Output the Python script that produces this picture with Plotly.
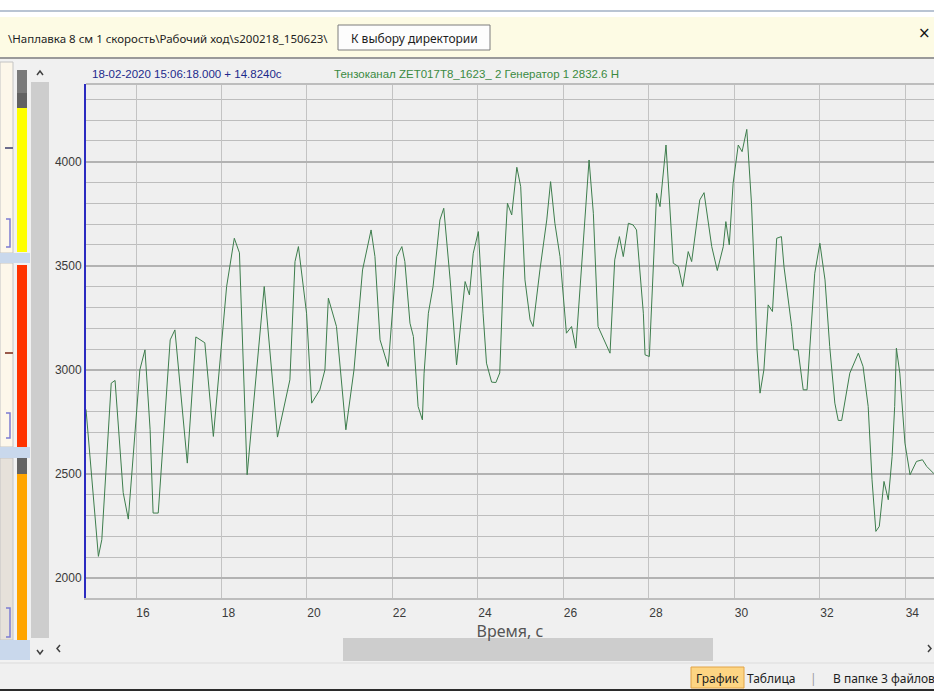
import plotly.graph_objects as go

# ---------------- data ----------------
time_s = [14.83, 15.12, 15.20, 15.42, 15.51, 15.70, 15.82, 16.09, 16.21, 16.33,
          16.40, 16.52, 16.80, 16.91, 17.20, 17.40, 17.61, 17.81, 18.12, 18.30,
          18.42, 18.60, 19.00, 19.31, 19.60, 19.72, 19.80, 19.99, 20.11, 20.30,
          20.42, 20.50, 20.69, 20.91, 21.10, 21.30, 21.50, 21.59, 21.71, 21.90,
          22.10, 22.22, 22.29, 22.41, 22.49, 22.60, 22.70, 22.74, 22.84, 22.95,
          23.11, 23.20, 23.35, 23.46, 23.50, 23.70, 23.80, 23.89, 24.01, 24.12,
          24.20, 24.32, 24.42, 24.51, 24.59, 24.69, 24.79, 24.91, 25.00, 25.10,
          25.22, 25.29, 25.45, 25.61, 25.70, 25.80, 25.92, 26.07, 26.19, 26.29,
          26.46, 26.60, 26.70, 26.81, 27.09, 27.20, 27.31, 27.40, 27.52, 27.63,
          27.71, 27.87, 27.91, 28.01, 28.18, 28.26, 28.40, 28.49, 28.57, 28.69,
          28.79, 28.92, 29.00, 29.19, 29.29, 29.47, 29.60, 29.74, 29.80, 29.88,
          29.97, 30.09, 30.18, 30.29, 30.40, 30.48, 30.53, 30.60, 30.69, 30.79,
          30.89, 30.99, 31.10, 31.16, 31.34, 31.39, 31.49, 31.61, 31.70, 31.88,
          32.00, 32.12, 32.23, 32.35, 32.43, 32.51, 32.70, 32.90, 33.01, 33.13,
          33.22, 33.31, 33.39, 33.50, 33.60, 33.69, 33.75, 33.79, 33.87, 33.99,
          34.11, 34.26, 34.40, 34.50, 34.67]

force_n = [2810, 2104, 2184, 2936, 2949, 2410, 2283, 3000, 3096, 2712,
           2312, 2312, 3144, 3192, 2552, 3158, 3130, 2680, 3400, 3632,
           3562, 2496, 3400, 2677, 2952, 3520, 3592, 3272, 2840, 2904,
           3000, 3344, 3208, 2712, 3000, 3480, 3672, 3544, 3144, 3016,
           3544, 3592, 3520, 3224, 3160, 2824, 2760, 2984, 3272, 3400,
           3720, 3776, 3432, 3112, 3024, 3424, 3360, 3560, 3664, 3272,
           3032, 2941, 2939, 2985, 3432, 3800, 3744, 3973, 3880, 3432,
           3240, 3208, 3480, 3720, 3904, 3704, 3544, 3176, 3208, 3104,
           3592, 4008, 3752, 3208, 3080, 3528, 3640, 3544, 3704, 3696,
           3672, 3272, 3072, 3064, 3848, 3784, 4080, 3800, 3512, 3496,
           3400, 3568, 3520, 3816, 3851, 3592, 3477, 3592, 3712, 3600,
           3896, 4080, 4048, 4155, 3800, 3400, 3096, 2888, 3000, 3312,
           3280, 3632, 3640, 3496, 3208, 3096, 3096, 2904, 2904, 3464,
           3608, 3432, 3112, 2840, 2757, 2757, 2984, 3080, 3016, 2824,
           2472, 2224, 2248, 2464, 2376, 2584, 2824, 3104, 2984, 2648,
           2496, 2560, 2568, 2536, 2501]

x_ticks = [16, 18, 20, 22, 24, 26, 28, 30, 32, 34]
y_ticks = [2000, 2500, 3000, 3500, 4000]
x_range = [14.83, 34.67]
y_range = [1904, 4373]

path_text = "\\Наплавка 8 см 1 скорость\\Рабочий ход\\s200218_150623\\"
button_text = "К выбору директории"
time_text = "18-02-2020 15:06:18.000 + 14.8240c"
channel_text = "Тензоканал ZET017T8_1623_ 2 Генератор 1 2832.6 Н"
x_title = "Время, с"

# ---------------- geometry helpers (pixels -> paper) ----------------
W, H = 934, 691
PL, PR, PT, PB = 86, 934, 84, 598


def px(x):
    return (x - PL) / (PR - PL)


def py(y):
    return (PB - y) / (PB - PT)


shapes = []
annotations = []


def rect(x0, y0, x1, y1, fill, line=None, lw=0):
    shapes.append(dict(type="rect", xref="paper", yref="paper",
                       x0=px(x0), x1=px(x1), y0=py(y1), y1=py(y0),
                       fillcolor=fill,
                       line=dict(color=line if line else fill, width=lw)))


def hline(x0, x1, y, color, lw=1):
    shapes.append(dict(type="line", xref="paper", yref="paper",
                       x0=px(x0), x1=px(x1), y0=py(y), y1=py(y),
                       line=dict(color=color, width=lw)))


def poly(points, color, lw=1.5):
    d = "M " + " L ".join(f"{px(a):.5f},{py(b):.5f}" for a, b in points)
    shapes.append(dict(type="path", xref="paper", yref="paper", path=d,
                       line=dict(color=color, width=lw)))


def text(x, y, s, size=12, color="#222222", family="Noto Sans",
         xanchor="left", yanchor="middle"):
    annotations.append(dict(xref="paper", yref="paper", x=px(x), y=py(y),
                            text=s, showarrow=False, xanchor=xanchor,
                            yanchor=yanchor,
                            font=dict(size=size, color=color, family=family)))


# ---------------- window chrome ----------------
rect(0, 0, 934, 17, "#ffffff")
hline(0, 934, 11, "#b9c4d3", 2)
rect(0, 17, 934, 57, "#fdfbe4")
hline(0, 934, 58, "#9a9a9a", 2)
rect(338, 25, 490, 50, "#fdfdfd", "#7c7c7c", 1)
text(6, 38, path_text, size=11.5, color="#1e1e1e")
text(414, 38, button_text, size=12, color="#1e1e1e", xanchor="center")
text(933, 33, "×", size=15, color="#111111", xanchor="right",
     family="DejaVu Sans")

# left panel column
rect(0, 60, 30, 662, "#f2f2f2")
rect(0, 62, 13, 253, "#fdf7ea", "#c4c4c4", 1)
rect(0, 263, 13, 447, "#fdf7ea", "#c4c4c4", 1)
rect(0, 458, 13, 640, "#e6e1da", "#c4c4c4", 1)
rect(0, 253, 30, 263, "#c9d8ec")
rect(0, 447, 30, 458, "#c9d8ec")
rect(0, 640, 30, 660, "#c9d8ec")
# color bars
rect(17, 70, 27, 93, "#7a7a7a")
rect(17, 93, 27, 108, "#626262")
rect(17, 108, 27, 252, "#ffff00")
rect(17, 265, 27, 447, "#ff3300")
rect(17, 458, 27, 474, "#646464")
rect(17, 474, 27, 640, "#ffa500")
# small markers on the left panels
hline(5, 13, 148, "#6c6c8c", 2)
hline(5, 13, 353, "#9a5a4a", 2)
poly([(6, 219), (10, 219), (10, 247), (6, 247)], "#7c7cd2", 1.5)
poly([(6, 413), (10, 413), (10, 438), (6, 438)], "#7c7cd2", 1.5)
poly([(6, 608), (10, 608), (10, 637), (6, 637)], "#7c7cd2", 1.5)

# vertical scrollbar
rect(31, 82, 49, 638, "#cdcdcd")
poly([(37, 75), (40, 71), (43, 75)], "#404040", 1.5)
poly([(37, 650), (40, 654), (43, 650)], "#404040", 1.5)

# horizontal scrollbar
rect(50, 638, 934, 661, "#f0f0f0")
rect(343, 638, 713, 661, "#cdcdcd")
poly([(60, 645), (57, 648.5), (60, 652)], "#404040", 1.5)
poly([(928, 645), (931, 648.5), (928, 652)], "#404040", 1.5)

# status bar
hline(0, 934, 663, "#dcdcdc", 1)
rect(0, 664, 934, 689, "#f0f0f0")
rect(691, 667, 744, 688, "#fdd583", "#e2a447", 1)
text(717.5, 678, "График", size=12, color="#1e1e1e", xanchor="center")
text(771, 678, "Таблица", size=12, color="#1e1e1e", xanchor="center")
text(813, 678, "|", size=12, color="#9a9a9a", xanchor="center")
text(831, 678, "В папке 3 файлов", size=12, color="#1e1e1e")
rect(0, 689, 934, 691, "#2b2b2b")

# chart header texts
text(90, 74, time_text, size=11.5, color="#1c2a8c", family="Liberation Sans")
text(332, 74, channel_text, size=11.5, color="#3a8a3f",
     family="Liberation Sans")

# top border of the plot area
hline(PL, PR, PT, "#bdbdbd", 2)

# ---------------- figure ----------------
fig = go.Figure()
fig.add_trace(go.Scatter(x=time_s, y=force_n, mode="lines",
                         line=dict(color="#3d7d4c", width=1),
                         hoverinfo="x+y", showlegend=False))

fig.update_layout(
    width=W, height=H,
    margin=dict(l=PL, r=W - PR, t=PT, b=H - PB, pad=0),
    paper_bgcolor="#f0f0f0",
    plot_bgcolor="#efefef",
    font=dict(family="Liberation Sans", size=12, color="#3a3a3a"),
    shapes=shapes,
    annotations=annotations,
    showlegend=False,
)
fig.update_xaxes(
    range=x_range, tickmode="array", tickvals=x_ticks,
    ticktext=[str(v) for v in x_ticks],
    showgrid=True, gridcolor="#c3c3c3", gridwidth=1,
    zeroline=False, ticks="", ticklabelshift=7, ticklabelstandoff=3,
    showline=True, linecolor="#bdbdbd", linewidth=2,
    tickfont=dict(size=12, color="#3a3a3a", family="Liberation Sans"),
    title=dict(text=x_title, standoff=0,
               font=dict(size=16, color="#555555", family="Noto Sans")),
)
fig.update_yaxes(
    range=y_range, tickmode="array", tickvals=y_ticks,
    ticktext=[str(v) for v in y_ticks],
    showgrid=True, gridcolor="#b2b2b2", gridwidth=2,
    minor=dict(dtick=100, tick0=0, showgrid=True, gridcolor="#bdbdbd",
               gridwidth=1, ticks=""),
    zeroline=False, ticks="", ticklabelstandoff=0,
    showline=True, linecolor="#2b2bc0", linewidth=2,
    tickfont=dict(size=12, color="#3a3a3a", family="Liberation Sans"),
)

fig.write_html(
    "out.html",
    config={"displayModeBar": False},
    post_script="document.body.style.margin='0';document.body.style.overflow='hidden';",
)
